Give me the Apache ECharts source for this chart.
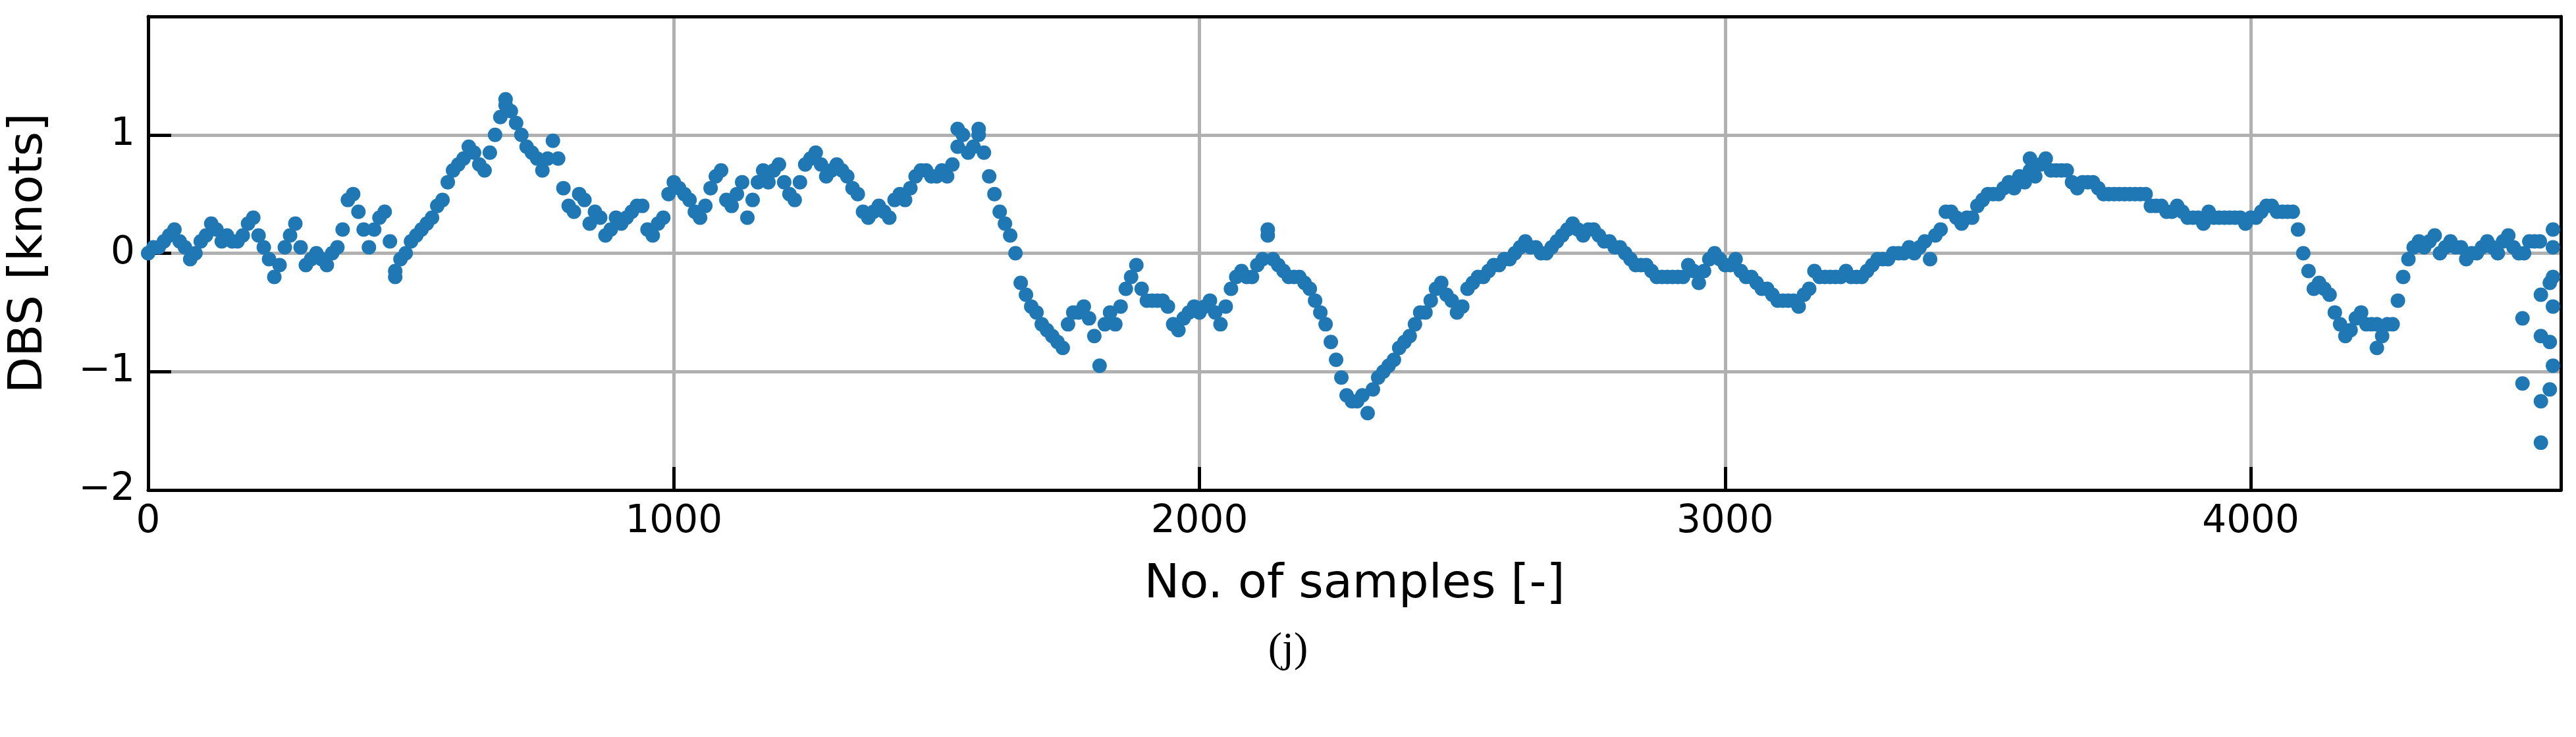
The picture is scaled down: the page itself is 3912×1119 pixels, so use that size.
<!DOCTYPE html>
<html>
<head>
<meta charset="utf-8">
<script src="https://cdn.jsdelivr.net/npm/echarts@6/dist/echarts.min.js"></script>
<style>
    html, body { margin: 0; padding: 0; background: #fff; }
    #chart { width: 3912px; height: 1119px; }
</style>
</head>
<body>
<div id="chart"></div>
<script>
// DBS read at samples 0, 20, 40, ...
var sampleStep = 20;
var dbs = [
    0.0, 0.05, 0.15, 0.1, -0.05, 0.1, 0.25, 0.1, 0.1, 0.15,
    0.3, 0.05, -0.2, 0.05, 0.25, -0.1, 0.0, -0.1, 0.05, 0.45,
    0.35, 0.05, 0.3, 0.1, -0.05, 0.1, 0.2, 0.3, 0.45, 0.7,
    0.8, 0.85, 0.7, 1.0, 1.25, 1.1, 0.9, 0.8, 0.8, 0.8,
    0.4, 0.5, 0.25, 0.3, 0.2, 0.25, 0.35, 0.4, 0.15, 0.3,
    0.6, 0.5, 0.35, 0.4, 0.65, 0.45, 0.5, 0.3, 0.6, 0.6,
    0.75, 0.5, 0.6, 0.8, 0.75, 0.7, 0.7, 0.55, 0.35, 0.35,
    0.35, 0.45, 0.45, 0.65, 0.7, 0.65, 0.65, 0.9, 0.85, 1.0,
    0.65, 0.35, 0.15, -0.25, -0.45, -0.6, -0.7, -0.8, -0.5, -0.45,
    -0.7, -0.6, -0.6, -0.3, -0.1, -0.4, -0.4, -0.45, -0.65, -0.5,
    -0.5, -0.4, -0.6, -0.3, -0.15, -0.2, -0.05, -0.05, -0.15, -0.2,
    -0.25, -0.4, -0.6, -0.9, -1.2, -1.25, -1.35, -1.05, -0.95, -0.8,
    -0.7, -0.5, -0.4, -0.25, -0.4, -0.45, -0.25, -0.2, -0.1, -0.05,
    0.0, 0.1, 0.05, 0.0, 0.1, 0.2, 0.2, 0.2, 0.15, 0.1,
    0.05, -0.05, -0.1, -0.15, -0.2, -0.2, -0.2, -0.15, -0.15, 0.0,
    -0.1, -0.05, -0.2, -0.25, -0.3, -0.4, -0.4, -0.45, -0.3, -0.2,
    -0.2, -0.2, -0.2, -0.2, -0.1, -0.05, 0.0, 0.0, 0.0, 0.1,
    0.15, 0.35, 0.3, 0.3, 0.4, 0.5, 0.5, 0.6, 0.65, 0.7,
    0.75, 0.7, 0.7, 0.6, 0.6, 0.6, 0.5, 0.5, 0.5, 0.5,
    0.5, 0.4, 0.35, 0.4, 0.3, 0.3, 0.35, 0.3, 0.3, 0.3,
    0.3, 0.35, 0.4, 0.35, 0.35, 0.0, -0.3, -0.3, -0.5, -0.7,
    -0.55, -0.6, -0.6, -0.6, -0.4, -0.05, 0.1, 0.1, 0.0, 0.1,
    0.05, 0.0, 0.05, 0.05, 0.1, 0.05, 0.0, 0.1
];
// DBS read at samples 10, 30, 50, ...
var dbsMid = [
    0.05, 0.1, 0.2, 0.05, 0.0, 0.15, 0.2, 0.15, 0.1, 0.25,
    0.15, -0.05, -0.1, 0.15, 0.05, -0.05, -0.05, 0.0, 0.2, 0.5,
    0.2, 0.2, 0.35, -0.15, 0.0, 0.15, 0.25, 0.4, 0.6, 0.75,
    0.9, 0.75, 0.85, 1.15, 1.2, 1.0, 0.85, 0.7, 0.95, 0.55,
    0.35, 0.45, 0.35, 0.15, 0.3, 0.3, 0.4, 0.2, 0.25, 0.5,
    0.55, 0.45, 0.3, 0.55, 0.7, 0.4, 0.6, 0.45, 0.7, 0.7,
    0.6, 0.45, 0.75, 0.85, 0.65, 0.75, 0.65, 0.5, 0.3, 0.4,
    0.3, 0.5, 0.55, 0.7, 0.65, 0.7, 0.75, 1.0, 0.9, 0.85,
    0.5, 0.25, 0.0, -0.35, -0.5, -0.65, -0.75, -0.6, -0.5, -0.55,
    -0.95, -0.5, -0.45, -0.2, -0.3, -0.4, -0.4, -0.6, -0.55, -0.45,
    -0.45, -0.5, -0.45, -0.2, -0.2, -0.1, 0.15, -0.1, -0.2, -0.2,
    -0.3, -0.5, -0.75, -1.05, -1.25, -1.2, -1.15, -1.0, -0.9, -0.75,
    -0.6, -0.5, -0.3, -0.35, -0.5, -0.3, -0.2, -0.15, -0.1, -0.05,
    0.05, 0.05, 0.0, 0.05, 0.15, 0.25, 0.15, 0.2, 0.1, 0.05,
    0.0, -0.1, -0.1, -0.2, -0.2, -0.2, -0.1, -0.25, -0.05, -0.05,
    -0.1, -0.15, -0.2, -0.3, -0.35, -0.4, -0.4, -0.35, -0.15, -0.2,
    -0.2, -0.15, -0.2, -0.15, -0.05, -0.05, 0.0, 0.05, 0.05, -0.05,
    0.2, 0.35, 0.25, 0.3, 0.45, 0.5, 0.55, 0.55, 0.6, 0.65,
    0.8, 0.7, 0.7, 0.55, 0.6, 0.55, 0.5, 0.5, 0.5, 0.5,
    0.4, 0.4, 0.35, 0.35, 0.3, 0.25, 0.3, 0.3, 0.3, 0.25,
    0.3, 0.4, 0.35, 0.35, 0.2, -0.15, -0.25, -0.35, -0.6, -0.65,
    -0.5, -0.6, -0.7, -0.6, -0.2, 0.05, 0.05, 0.15, 0.05, 0.05,
    -0.05, 0.0, 0.1, 0.0, 0.15, 0.0, 0.1, 0.1
];
// spikes and the scattered tail at the end of the record
var extraX = [470, 2130, 680, 1540, 1580, 3580, 4240,
    4517, 4517, 4552, 4552, 4552, 4552, 4569, 4569, 4569, 4575, 4575, 4575, 4575, 4575];
var extraY = [-0.2, 0.2, 1.3, 1.05, 1.05, 0.8, -0.8,
    -0.55, -1.1, -0.35, -0.7, -1.25, -1.6, -0.75, -1.15, -0.25, -0.45, -0.95, 0.2, 0.05, -0.2];
var xTicks = [0, 1000, 2000, 3000, 4000];
var yTicks = [-2, -1, 0, 1];

var points = [];
for (var i = 0; i < dbs.length; i++) {
    points.push([i * sampleStep, dbs[i]]);
}
for (var k = 0; k < dbsMid.length; k++) {
    points.push([k * sampleStep + sampleStep / 2, dbsMid[k]]);
}
for (var j = 0; j < extraX.length; j++) {
    points.push([extraX[j], extraY[j]]);
}

var font = 'DejaVu Sans';
var myChart = echarts.init(document.getElementById('chart'));
var option = {
    animation: false,
    backgroundColor: '#fff',
    title: {
        text: '(j)',
        left: 'center',
        top: 950,
        textStyle: { fontFamily: 'Liberation Serif', fontSize: 64, fontWeight: 'normal', color: '#000' }
    },
    grid: { left: 224, right: 23, top: 25, bottom: 375 },
    xAxis: [
        {
            type: 'value',
            min: 0,
            max: 4590,
            interval: 1000,
            name: 'No. of samples [-]',
            nameLocation: 'middle',
            nameGap: 108,
            nameTextStyle: { fontFamily: font, fontSize: 72, color: '#000' },
            axisLine: { show: true, onZero: false, lineStyle: { color: '#000', width: 5 } },
            axisTick: { inside: true, length: 35, lineStyle: { color: '#000', width: 5 } },
            axisLabel: {
                fontFamily: font, fontSize: 58, color: '#000', margin: 20,
                formatter: function (v) { return xTicks.indexOf(v) >= 0 ? String(v) : ''; }
            },
            splitLine: { show: true, lineStyle: { color: '#b0b0b0', width: 5 } }
        },
        {
            type: 'value', position: 'top', min: 0, max: 4590,
            axisLine: { show: true, onZero: false, lineStyle: { color: '#000', width: 5 } },
            axisTick: { show: false }, axisLabel: { show: false }, splitLine: { show: false }
        }
    ],
    yAxis: [
        {
            type: 'value',
            min: -2,
            max: 2,
            interval: 1,
            name: 'DBS [knots]',
            nameLocation: 'middle',
            nameGap: 145,
            nameTextStyle: { fontFamily: font, fontSize: 72, color: '#000' },
            axisLine: { show: true, onZero: false, lineStyle: { color: '#000', width: 5 } },
            axisTick: { inside: true, length: 35, lineStyle: { color: '#000', width: 5 } },
            axisLabel: {
                fontFamily: font, fontSize: 58, color: '#000', margin: 20,
                formatter: function (v) {
                    return yTicks.indexOf(v) >= 0 ? String(v).replace('-', '\u2212') : '';
                }
            },
            splitLine: { show: true, lineStyle: { color: '#b0b0b0', width: 5 } }
        },
        {
            type: 'value', position: 'right', min: -2, max: 2,
            axisLine: { show: true, onZero: false, lineStyle: { color: '#000', width: 5 } },
            axisTick: { show: false }, axisLabel: { show: false }, splitLine: { show: false }
        }
    ],
    series: [
        {
            type: 'scatter',
            data: points,
            symbolSize: 22,
            itemStyle: { color: '#1f77b4', opacity: 1 },
            z: 3
        }
    ]
};
myChart.setOption(option);
</script>
</body>
</html>
